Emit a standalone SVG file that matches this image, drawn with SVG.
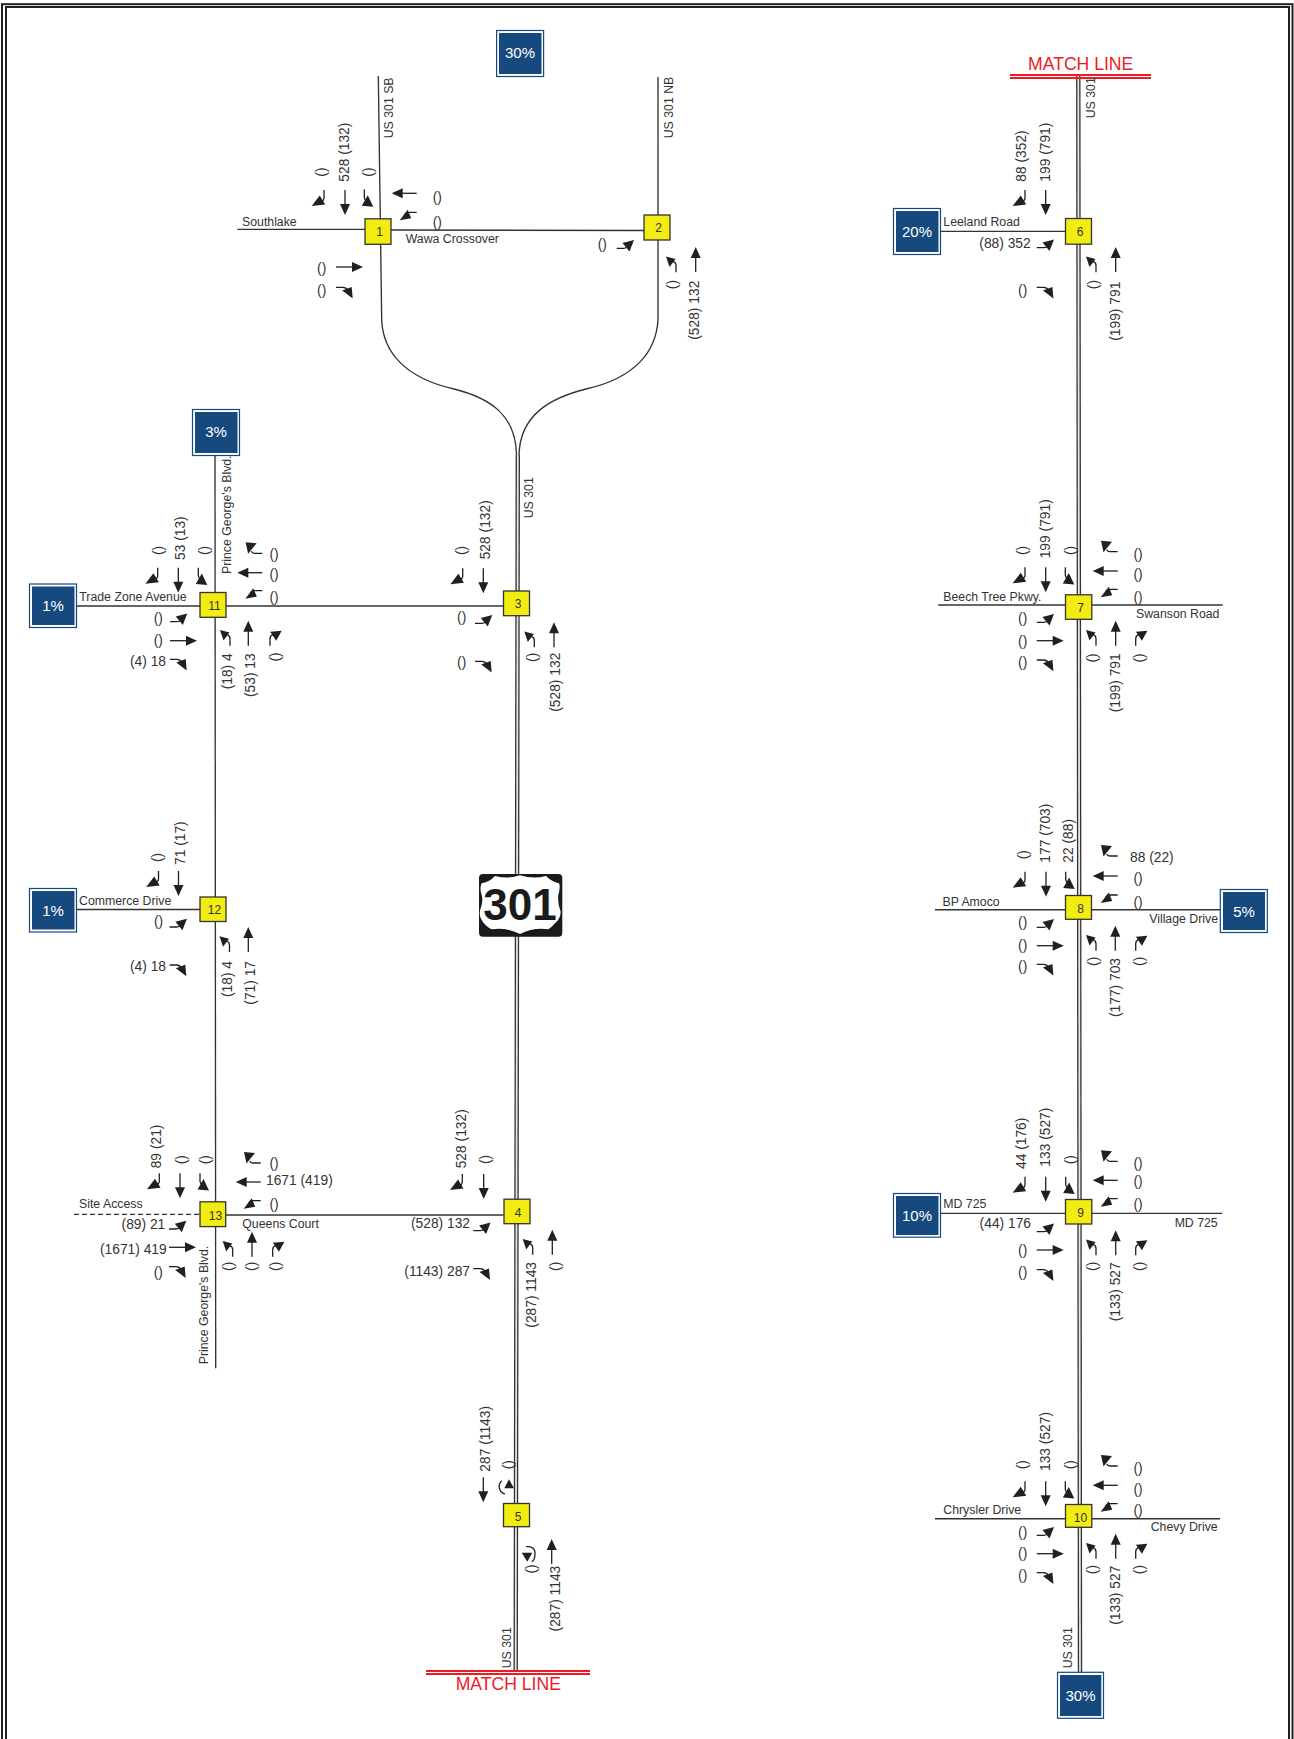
<svg xmlns="http://www.w3.org/2000/svg" width="1294" height="1739" viewBox="0 0 1294 1739">
<style>
.r{fill:none;stroke:#333;stroke-width:1.35}
.d1{fill:none;stroke:#333;stroke-width:4.4}
.d2{fill:none;stroke:#e6e6e6;stroke-width:1.8}
.a{fill:none;stroke:#231f20;stroke-width:1.3}
.h{fill:#231f20;stroke:none}
.l{font:13.8px "Liberation Sans",Arial,sans-serif;fill:#333;dominant-baseline:central}
.n{font:12.3px "Liberation Sans",Arial,sans-serif;fill:#333;dominant-baseline:central}
.m{text-anchor:middle}
.e{text-anchor:end}
.box{fill:#f3ec12;stroke:#333;stroke-width:1.3}
.num{font:12px "Liberation Sans",Arial,sans-serif;fill:#333;text-anchor:middle;dominant-baseline:central}
.po{fill:#fff;stroke:#164a7e;stroke-width:1.2}
.pi{fill:#164a7e}
.pt{font:15px "Liberation Sans",Arial,sans-serif;fill:#fff;text-anchor:middle;dominant-baseline:central}
.ml{fill:none;stroke:#ed1c24;stroke-width:1.8}
.mt{font:17.6px "Liberation Sans",Arial,sans-serif;fill:#ed1c24;text-anchor:middle}
</style>
<defs>
<g id="s-t"><path class="a" d="M0 0V15"/><path class="h" d="M0 25L-5 14H5Z"/></g>
<g id="n-t"><path class="a" d="M0 0V-15"/><path class="h" d="M0 -25L-5 -14H5Z"/></g>
<g id="e-t"><path class="a" d="M0 0H17"/><path class="h" d="M27 0L16 -5V5Z"/></g>
<g id="w-t"><path class="a" d="M0 0H-15"/><path class="h" d="M-25 0L-14 -5V5Z"/></g>
<g id="s-w"><path class="a" d="M0 0V8Q0 11-4 12"/><path class="h" d="M-12.3 16L1.2 14.5L-4.3 5.5Z"/></g>
<g id="s-e"><path class="a" d="M0 0V8Q0 10 3 12"/><path class="h" d="M9 17.3L-2.5 16.3L3.5 5.8Z"/></g>
<g id="w-n"><path class="a" d="M0 0H-8Q-10 0-11-2"/><path class="h" d="M-16.7 -11L-5.7 -10L-14.2 .5Z"/></g>
<g id="w-s"><path class="a" d="M0 0H-8Q-10 0-12 2"/><path class="h" d="M-17 8L-9 -2.5L-5.5 6Z"/></g>
<g id="n-w"><path class="a" d="M0 0V-7Q0-10-3-11"/><path class="h" d="M-10 -15.7L-.5 -13.2L-6.5 -5.2Z"/></g>
<g id="n-e"><path class="a" d="M0 0V-7Q0-10 3-11"/><path class="h" d="M11.7 -15L.2 -14L6.2 -5Z"/></g>
<g id="e-n"><path class="a" d="M0 0H7Q10 0 11-2"/><path class="h" d="M17.3 -8.3L5.8 -5.3L12.8 3.2Z"/></g>
<g id="e-s"><path class="a" d="M0 0H7Q10 0 12 3"/><path class="h" d="M16.7 11.3L6.2 3.3L15.7 -.2Z"/></g>
</defs>
<rect width="1294" height="1739" fill="#fff"/>
<g id="frame" fill="none" stroke="#231f20">
<rect x="2" y="4.2" width="1290.5" height="1760" stroke-width="2"/>
<rect x="6" y="7" width="1283" height="1760" stroke-width="2"/>
</g>
<g id="connectors">
<path class="r" d="M378.3 76L381.7 320C383 352 405 378 454 389C490 398 516 415 516.5 455"/>
<path class="r" d="M658 77V320C656 352 635 378 586 389C550 398 520 415 519 455"/>
<path class="r" d="M237.3 229.3H365"/>
<path class="r" d="M391 230L644 230.5"/>
<path class="r" d="M215 455L215.7 1368.3"/>
<path class="r" d="M76 606H503"/>
<path class="r" d="M76 909.5H200"/>
<path class="r" d="M226 1215H503.5"/>
<path class="r" d="M74 1214.3H200" stroke-dasharray="5 3"/>
<path class="r" d="M941 231.3H1065"/>
<path class="r" d="M938.3 605H1222.7"/>
<path class="r" d="M935 909.7H1220"/>
<path class="r" d="M941 1213.3H1222.3"/>
<path class="r" d="M935 1518.7H1220"/>
<path class="d1" d="M517.8 455L515.7 1672"/><path class="d2" d="M517.8 455L515.7 1672"/>
<path class="d1" d="M1078.3 76L1080 1673"/><path class="d2" d="M1078.3 76L1080 1673"/>
</g>
<g id="match-line-left"><path class="ml" d="M426 1671H590M426 1674H590"/><text class="mt" x="508.3" y="1690">MATCH LINE</text></g>
<g id="match-line-right"><path class="ml" d="M1010 75H1151M1010 78H1151"/><text class="mt" x="1080.7" y="70">MATCH LINE</text></g>
<g id="shield-301">
<rect x="479" y="874" width="83.3" height="62.7" rx="4" fill="#1a1a1a"/>
<path fill="#fff" transform="translate(440 840) scale(.3333)" d="M125 130Q150 125 165 108Q205 118 240 106Q280 118 318 108Q335 125 357 130Q362 140 355 165Q352 190 362 215Q362 235 345 250Q335 262 325 268Q280 262 240 282Q200 262 155 268Q135 258 125 240Q115 225 122 205Q130 185 125 165Q118 145 125 130Z"/>
<text x="520" y="920" font-family="Liberation Sans,Arial,sans-serif" font-weight="700" font-size="44" fill="#1a1a1a" text-anchor="middle">301</text>
</g>
<g id="road-labels">
<text class="n" transform="translate(389 138.3) rotate(-90)">US 301 SB</text>
<text class="n" transform="translate(669.3 138.3) rotate(-90)">US 301 NB</text>
<text class="n" x="242" y="221.7">Southlake</text>
<text class="n" x="405.7" y="238.7">Wawa Crossover</text>
<text class="n" transform="translate(529 518.3) rotate(-90)">US 301</text>
<text class="n" transform="translate(226.7 574) rotate(-90)">Prince George's Blvd.</text>
<text class="n" x="79.3" y="596.7">Trade Zone Avenue</text>
<text class="n" x="79" y="901">Commerce Drive</text>
<text class="n" x="79" y="1204">Site Access</text>
<text class="n" x="242.3" y="1224">Queens Court</text>
<text class="n" transform="translate(204.3 1364.3) rotate(-90)">Prince George's Blvd.</text>
<text class="n" transform="translate(507.3 1668.3) rotate(-90)">US 301</text>
<text class="n" transform="translate(1090.7 118.3) rotate(-90)">US 301</text>
<text class="n" x="943.3" y="221.7">Leeland Road</text>
<text class="n" x="943.3" y="596.7">Beech Tree Pkwy.</text>
<text class="n" x="1136" y="614">Swanson Road</text>
<text class="n" x="942.5" y="901.7">BP Amoco</text>
<text class="n e" x="1218" y="919">Village Drive</text>
<text class="n" x="943.3" y="1203.7">MD 725</text>
<text class="n e" x="1217.7" y="1223">MD 725</text>
<text class="n" x="943.3" y="1510">Chrysler Drive</text>
<text class="n e" x="1217.7" y="1526.7">Chevy Drive</text>
<text class="n" transform="translate(1068.3 1668.3) rotate(-90)">US 301</text>
</g>
<g id="pct-30-top"><rect class="po" x="496.6" y="30.5" width="47" height="46"/><rect class="pi" x="499" y="33" width="42.5" height="41"/><text class="pt" x="520" y="52.5">30%</text></g>
<g id="pct-3"><rect class="po" x="192.5" y="409.5" width="47" height="46"/><rect class="pi" x="195" y="412" width="42.5" height="41"/><text class="pt" x="216" y="431.5">3%</text></g>
<g id="pct-1a"><rect class="po" x="29.5" y="584" width="47" height="43.5"/><rect class="pi" x="32" y="586.5" width="42.5" height="38.5"/><text class="pt" x="53" y="605.7">1%</text></g>
<g id="pct-1b"><rect class="po" x="29.5" y="888.5" width="47" height="43.5"/><rect class="pi" x="32" y="891" width="42.5" height="38.5"/><text class="pt" x="53" y="910">1%</text></g>
<g id="pct-20"><rect class="po" x="893.5" y="208.5" width="47" height="46"/><rect class="pi" x="896" y="211" width="42.5" height="41"/><text class="pt" x="917" y="231">20%</text></g>
<g id="pct-5"><rect class="po" x="1220.3" y="889.5" width="47" height="43"/><rect class="pi" x="1223" y="892" width="42" height="38"/><text class="pt" x="1244" y="911">5%</text></g>
<g id="pct-10"><rect class="po" x="893.5" y="1193.5" width="47" height="43.7"/><rect class="pi" x="896" y="1196" width="42.5" height="39"/><text class="pt" x="917" y="1215.3">10%</text></g>
<g id="pct-30-bottom"><rect class="po" x="1057.5" y="1672.3" width="46" height="46"/><rect class="pi" x="1060" y="1675" width="41.3" height="41"/><text class="pt" x="1080.5" y="1695">30%</text></g>

<g id="traffic-1">
<use href="#s-w" x="324" y="190"/><use href="#s-t" x="345" y="190"/><use href="#s-e" x="364.3" y="189.5"/>
<use href="#w-t" x="416.7" y="193.3"/><use href="#w-s" x="416.7" y="212.3"/>
<use href="#e-t" x="336" y="267"/><use href="#e-s" x="336" y="287.3"/>
<text class="l" transform="translate(321.7 176.7) rotate(-90)">()</text>
<text class="l" transform="translate(344 181.7) rotate(-90)">528 (132)</text>
<text class="l" transform="translate(368.3 176.7) rotate(-90)">()</text>
<text class="l m" x="437.3" y="197.3">()</text><text class="l m" x="437.3" y="222.3">()</text>
<text class="l m" x="321.7" y="268.3">()</text><text class="l m" x="321.7" y="290.7">()</text>
</g>
<g id="traffic-2">
<use href="#e-n" x="616.7" y="248.3"/><use href="#n-w" x="676" y="272.3"/><use href="#n-t" x="695.7" y="272"/>
<text class="l m" x="602.3" y="244.3">()</text>
<text class="l e" transform="translate(672 280) rotate(-90)">()</text>
<text class="l e" transform="translate(694 280.7) rotate(-90)">(528) 132</text>
</g>
<g id="traffic-3">
<use href="#s-w" x="462.7" y="568.3"/><use href="#s-t" x="483.3" y="568.3"/>
<use href="#e-n" x="475" y="623.3"/><use href="#e-s" x="475" y="661.3"/>
<use href="#n-w" x="534.3" y="647.3"/><use href="#n-t" x="554" y="647.3"/>
<text class="l" transform="translate(461.7 555) rotate(-90)">()</text>
<text class="l" transform="translate(485 559.3) rotate(-90)">528 (132)</text>
<text class="l m" x="461.7" y="617.3">()</text><text class="l m" x="461.7" y="662.7">()</text>
<text class="l e" transform="translate(532.3 652.7) rotate(-90)">()</text>
<text class="l e" transform="translate(555 652.7) rotate(-90)">(528) 132</text>
</g>
<g id="traffic-4">
<use href="#s-w" x="462.3" y="1174"/><use href="#s-t" x="483.7" y="1174"/>
<use href="#e-n" x="473.3" y="1230.7"/><use href="#e-s" x="473.3" y="1268.7"/>
<use href="#n-w" x="532.7" y="1254.7"/><use href="#n-t" x="552.3" y="1254.7"/>
<text class="l" transform="translate(461 1168.3) rotate(-90)">528 (132)</text>
<text class="l" transform="translate(485.7 1164) rotate(-90)">()</text>
<text class="l e" x="470" y="1223.7">(528) 132</text>
<text class="l e" x="470" y="1271.3">(1143) 287</text>
<text class="l e" transform="translate(531.3 1262) rotate(-90)">(287) 1143</text>
<text class="l e" transform="translate(555 1261.7) rotate(-90)">()</text>
</g>
<g id="traffic-5">
<use href="#s-t" x="483.3" y="1477.3"/>
<path class="a" d="M501.7 1480.7C498 1484 498 1492 505 1494"/><path class="h" d="M509 1479.3L504.3 1488.3H514Z"/>
<path class="a" d="M526 1546.7C531 1546 535 1548 535 1553C535 1558 534 1561 531.7 1561.7"/><path class="h" d="M527.3 1561.7L521.7 1552.7H532.3Z"/>
<use href="#n-t" x="551.7" y="1564"/>
<text class="l" transform="translate(485 1471.7) rotate(-90)">287 (1143)</text>
<text class="l" transform="translate(508.3 1469.3) rotate(-90)">()</text>
<text class="l e" transform="translate(531.7 1564.3) rotate(-90)">()</text>
<text class="l e" transform="translate(555 1565.7) rotate(-90)">(287) 1143</text>
</g>
<g id="traffic-6">
<use href="#s-w" x="1025" y="190"/><use href="#s-t" x="1045.7" y="190"/>
<use href="#e-n" x="1036.7" y="247.7"/><use href="#e-s" x="1036.7" y="287.3"/>
<use href="#n-w" x="1096" y="272.3"/><use href="#n-t" x="1115.7" y="272"/>
<text class="l" transform="translate(1021.7 181.7) rotate(-90)">88 (352)</text>
<text class="l" transform="translate(1045 181.7) rotate(-90)">199 (791)</text>
<text class="l e" x="1030.7" y="243.3">(88) 352</text>
<text class="l m" x="1022.7" y="290.7">()</text>
<text class="l e" transform="translate(1093.3 280) rotate(-90)">()</text>
<text class="l e" transform="translate(1115.7 281.7) rotate(-90)">(199) 791</text>
</g>
<g id="traffic-7">
<use href="#s-w" x="1025" y="567.3"/><use href="#s-t" x="1045.7" y="567.3"/><use href="#s-e" x="1065.3" y="567.3"/>
<use href="#w-n" x="1117.7" y="551.7"/><use href="#w-t" x="1117.7" y="571"/><use href="#w-s" x="1117.7" y="589.3"/>
<use href="#n-w" x="1096" y="645.7"/><use href="#n-t" x="1115.7" y="645.7"/><use href="#n-e" x="1135.7" y="645.7"/>
<use href="#e-n" x="1036.7" y="622.3"/><use href="#e-t" x="1036.7" y="640.7"/><use href="#e-s" x="1036.7" y="660"/>
<text class="l" transform="translate(1022.7 555) rotate(-90)">()</text>
<text class="l" transform="translate(1045 558.3) rotate(-90)">199 (791)</text>
<text class="l" transform="translate(1070 555) rotate(-90)">()</text>
<text class="l m" x="1138" y="554">()</text><text class="l m" x="1138" y="574">()</text><text class="l m" x="1138" y="597.3">()</text>
<text class="l m" x="1022.7" y="618">()</text><text class="l m" x="1022.7" y="641.7">()</text><text class="l m" x="1022.7" y="662.3">()</text>
<text class="l e" transform="translate(1092.3 653.3) rotate(-90)">()</text>
<text class="l e" transform="translate(1115.7 653.3) rotate(-90)">(199) 791</text>
<text class="l e" transform="translate(1139.3 653.3) rotate(-90)">()</text>
</g>
<g id="traffic-8">
<use href="#s-w" x="1025" y="871.7"/><use href="#s-t" x="1046" y="871.7"/><use href="#s-e" x="1065.7" y="871.7"/>
<use href="#w-n" x="1117.7" y="856"/><use href="#w-t" x="1117.7" y="876"/><use href="#w-s" x="1117.7" y="895"/>
<use href="#n-w" x="1096" y="950.7"/><use href="#n-t" x="1115.3" y="950.7"/><use href="#n-e" x="1135.7" y="950.7"/>
<use href="#e-n" x="1036.7" y="927.3"/><use href="#e-t" x="1036.7" y="945.7"/><use href="#e-s" x="1036.7" y="964.3"/>
<text class="l" transform="translate(1023 859.3) rotate(-90)">()</text>
<text class="l" transform="translate(1045.7 862.7) rotate(-90)">177 (703)</text>
<text class="l" transform="translate(1068 862.7) rotate(-90)">22 (88)</text>
<text class="l" x="1130" y="857">88 (22)</text>
<text class="l m" x="1138" y="878.7">()</text><text class="l m" x="1138" y="902.7">()</text>
<text class="l m" x="1022.7" y="922.7">()</text><text class="l m" x="1022.7" y="945.3">()</text><text class="l m" x="1022.7" y="966.7">()</text>
<text class="l e" transform="translate(1093.3 956.7) rotate(-90)">()</text>
<text class="l e" transform="translate(1115.7 958) rotate(-90)">(177) 703</text>
<text class="l e" transform="translate(1139.3 956.7) rotate(-90)">()</text>
</g>
<g id="traffic-9">
<use href="#s-w" x="1025" y="1176.7"/><use href="#s-t" x="1045.7" y="1176.7"/><use href="#s-e" x="1065.7" y="1176.7"/>
<use href="#w-n" x="1117.7" y="1161.3"/><use href="#w-t" x="1117.7" y="1180.3"/><use href="#w-s" x="1117.7" y="1198.7"/>
<use href="#n-w" x="1096" y="1255.3"/><use href="#n-t" x="1115.7" y="1255.3"/><use href="#n-e" x="1135.7" y="1255.3"/>
<use href="#e-n" x="1036.7" y="1231.7"/><use href="#e-t" x="1036.7" y="1250"/><use href="#e-s" x="1036.7" y="1269.7"/>
<text class="l" transform="translate(1021.7 1169) rotate(-90)">44 (176)</text>
<text class="l" transform="translate(1045 1166.7) rotate(-90)">133 (527)</text>
<text class="l" transform="translate(1070 1164.3) rotate(-90)">()</text>
<text class="l m" x="1138" y="1163.3">()</text><text class="l m" x="1138" y="1181.7">()</text><text class="l m" x="1138" y="1204.7">()</text>
<text class="l e" x="1031" y="1223.7">(44) 176</text>
<text class="l m" x="1022.7" y="1250.3">()</text><text class="l m" x="1022.7" y="1272.3">()</text>
<text class="l e" transform="translate(1092.7 1261.7) rotate(-90)">()</text>
<text class="l e" transform="translate(1115.7 1262.3) rotate(-90)">(133) 527</text>
<text class="l e" transform="translate(1139 1261.7) rotate(-90)">()</text>
</g>
<g id="traffic-10">
<use href="#s-w" x="1025" y="1481.3"/><use href="#s-t" x="1045.7" y="1481.3"/><use href="#s-e" x="1065.3" y="1481.3"/>
<use href="#w-n" x="1117.7" y="1466"/><use href="#w-t" x="1117.7" y="1485.3"/><use href="#w-s" x="1117.7" y="1503.7"/>
<use href="#n-w" x="1096" y="1558.7"/><use href="#n-t" x="1115.7" y="1558.7"/><use href="#n-e" x="1135.7" y="1558.7"/>
<use href="#e-n" x="1036.7" y="1535.3"/><use href="#e-t" x="1036.7" y="1553.7"/><use href="#e-s" x="1036.7" y="1572.7"/>
<text class="l" transform="translate(1022.7 1469.3) rotate(-90)">()</text>
<text class="l" transform="translate(1045 1471) rotate(-90)">133 (527)</text>
<text class="l" transform="translate(1070 1469.3) rotate(-90)">()</text>
<text class="l m" x="1138" y="1468.7">()</text><text class="l m" x="1138" y="1489.3">()</text><text class="l m" x="1138" y="1510.7">()</text>
<text class="l m" x="1022.7" y="1532.7">()</text><text class="l m" x="1022.7" y="1553.7">()</text><text class="l m" x="1022.7" y="1575.3">()</text>
<text class="l e" transform="translate(1092.7 1565) rotate(-90)">()</text>
<text class="l e" transform="translate(1115.7 1565.7) rotate(-90)">(133) 527</text>
<text class="l e" transform="translate(1139.3 1565) rotate(-90)">()</text>
</g>
<g id="traffic-11">
<use href="#s-w" x="157.7" y="567.7"/><use href="#s-t" x="178.3" y="567.7"/><use href="#s-e" x="198.3" y="567.7"/>
<use href="#w-n" x="262.3" y="553.3"/><use href="#w-t" x="262.3" y="572.7"/><use href="#w-s" x="262.3" y="590.7"/>
<use href="#n-w" x="230" y="645.7"/><use href="#n-t" x="248.3" y="645.7"/><use href="#n-e" x="270" y="645.7"/>
<use href="#e-n" x="170" y="621.7"/><use href="#e-t" x="170" y="640.7"/><use href="#e-s" x="170" y="659.3"/>
<text class="l" transform="translate(158.3 555) rotate(-90)">()</text>
<text class="l" transform="translate(180.7 560) rotate(-90)">53 (13)</text>
<text class="l" transform="translate(204.3 555) rotate(-90)">()</text>
<text class="l m" x="274" y="554.3">()</text><text class="l m" x="274" y="574.3">()</text><text class="l m" x="274" y="597.3">()</text>
<text class="l m" x="158.3" y="618.3">()</text><text class="l m" x="158.3" y="640.7">()</text>
<text class="l e" x="166" y="661.7">(4) 18</text>
<text class="l e" transform="translate(227.3 653.3) rotate(-90)">(18) 4</text>
<text class="l e" transform="translate(250.7 653.3) rotate(-90)">(53) 13</text>
<text class="l e" transform="translate(275 652.3) rotate(-90)">()</text>
</g>
<g id="traffic-12">
<use href="#s-w" x="158.5" y="871"/><use href="#s-t" x="178.5" y="871"/>
<use href="#e-n" x="169.6" y="927"/><use href="#e-s" x="169.6" y="965"/>
<use href="#n-w" x="229.5" y="952"/><use href="#n-t" x="248.3" y="952"/>
<text class="l" transform="translate(157.5 862) rotate(-90)">()</text>
<text class="l" transform="translate(180.7 865) rotate(-90)">71 (17)</text>
<text class="l m" x="158.5" y="921.5">()</text>
<text class="l e" x="166" y="966">(4) 18</text>
<text class="l e" transform="translate(227.3 961) rotate(-90)">(18) 4</text>
<text class="l e" transform="translate(250.6 961) rotate(-90)">(71) 17</text>
</g>
<g id="traffic-13">
<use href="#s-w" x="159.3" y="1173.3"/><use href="#s-t" x="180" y="1173.3"/><use href="#s-e" x="200" y="1173.3"/>
<use href="#w-n" x="260.7" y="1163"/><use href="#w-t" x="260.7" y="1182"/><use href="#w-s" x="260.7" y="1200.7"/>
<use href="#n-w" x="232.7" y="1256.7"/><use href="#n-t" x="252" y="1256.7"/><use href="#n-e" x="272.7" y="1256.7"/>
<use href="#e-n" x="169" y="1229"/><use href="#e-t" x="169" y="1247.3"/><use href="#e-s" x="169" y="1266.7"/>
<text class="l" transform="translate(156.7 1168.3) rotate(-90)">89 (21)</text>
<text class="l" transform="translate(181.7 1164.3) rotate(-90)">()</text>
<text class="l" transform="translate(205.3 1164.3) rotate(-90)">()</text>
<text class="l m" x="274" y="1163.3">()</text>
<text class="l" x="266" y="1180.7">1671 (419)</text>
<text class="l m" x="274" y="1204">()</text>
<text class="l e" x="165.3" y="1224">(89) 21</text>
<text class="l e" x="166.7" y="1249.3">(1671) 419</text>
<text class="l m" x="158.3" y="1272.7">()</text>
<text class="l e" transform="translate(228.3 1261.7) rotate(-90)">()</text>
<text class="l e" transform="translate(251.7 1261.7) rotate(-90)">()</text>
<text class="l e" transform="translate(275.3 1261.7) rotate(-90)">()</text>
</g>

<g id="node-1"><rect class="box" x="365" y="218.8" width="26" height="25.5"/><text class="num" x="379.5" y="232">1</text></g>
<g id="node-2"><rect class="box" x="644" y="215" width="26" height="25"/><text class="num" x="658.5" y="228">2</text></g>
<g id="node-3"><rect class="box" x="503.5" y="591" width="26" height="24.7"/><text class="num" x="518" y="604">3</text></g>
<g id="node-4"><rect class="box" x="504" y="1199.2" width="26" height="24.5"/><text class="num" x="518" y="1212.5">4</text></g>
<g id="node-5"><rect class="box" x="503.5" y="1503.5" width="26" height="23.2"/><text class="num" x="518" y="1516.5">5</text></g>
<g id="node-6"><rect class="box" x="1065.5" y="218.5" width="26" height="25.7"/><text class="num" x="1080" y="232">6</text></g>
<g id="node-7"><rect class="box" x="1065.5" y="594.8" width="26.3" height="24.5"/><text class="num" x="1080.5" y="608">7</text></g>
<g id="node-8"><rect class="box" x="1065.5" y="895.5" width="26" height="23.8"/><text class="num" x="1080.5" y="908.5">8</text></g>
<g id="node-9"><rect class="box" x="1065.5" y="1199.5" width="26.3" height="24.5"/><text class="num" x="1080.5" y="1213">9</text></g>
<g id="node-10"><rect class="box" x="1065.5" y="1504.5" width="26.3" height="22.8"/><text class="num" x="1080.5" y="1517.5">10</text></g>
<g id="node-11"><rect class="box" x="200" y="592.5" width="26" height="24.8"/><text class="num" x="214.5" y="606">11</text></g>
<g id="node-12"><rect class="box" x="200" y="897" width="26" height="24.5"/><text class="num" x="214.5" y="910">12</text></g>
<g id="node-13"><rect class="box" x="200" y="1201.8" width="25.7" height="24.8"/><text class="num" x="215.5" y="1215.5">13</text></g>
</svg>
